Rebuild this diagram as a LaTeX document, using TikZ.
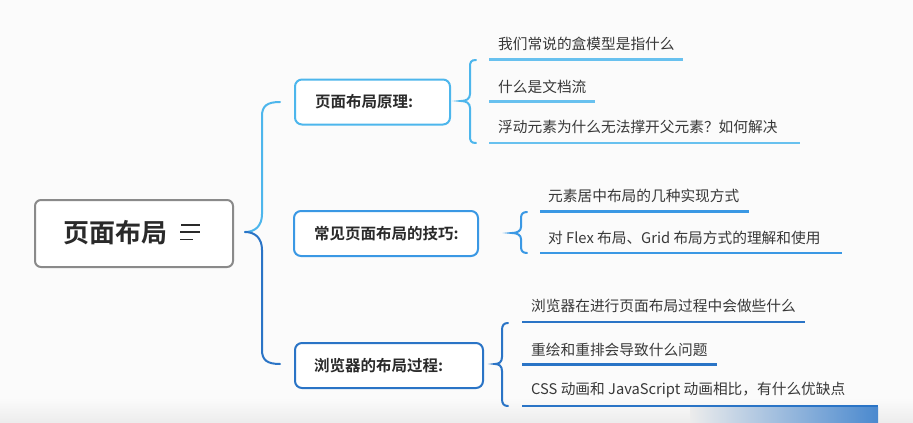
\documentclass[tikz,border=0pt]{standalone}
\usepackage{fontspec}
\setmainfont{Noto Sans CJK SC}
\newfontfamily\cjkb{Noto Sans CJK SC Bold}
\definecolor{bgc}{HTML}{FBFBFB}
\definecolor{bandc}{HTML}{ECECEC}
\definecolor{lightb}{HTML}{4DB6EC}
\definecolor{midb}{HTML}{3A98E4}
\definecolor{darkb}{HTML}{2A74C6}
\definecolor{rootc}{HTML}{8A8A8A}
\definecolor{txtc}{HTML}{2A2A2A}
\definecolor{leaftxt}{HTML}{383838}
\tikzset{
  rootbox/.style={draw=rootc, line width=2pt, rounded corners=6pt, fill=white, minimum width=198pt, minimum height=67pt, inner sep=0pt},
  topicbox/.style={line width=2pt, rounded corners=7pt, fill=white, minimum height=45pt, inner sep=0pt, text=txtc, font=\cjkb\fontsize{15.5}{18}\selectfont},
  topictext/.style={anchor=west, inner sep=0pt, text=txtc, font=\cjkb\fontsize{15.5}{18}\selectfont},
  leaftext/.style={anchor=west, inner sep=0pt, text=leaftxt, font=\fontsize{14.7}{17}\selectfont},
  uline/.style={line width=2.2pt},
  bracepath/.style={line width=2pt, line cap=round},
}
\begin{document}
\begin{tikzpicture}[x=1pt,y=-1pt]
\useasboundingbox (0,0) rectangle (913,423);
\fill[bgc] (0,0) rectangle (913,423);
\shade[top color=bgc, bottom color=bandc] (0,398) rectangle (913,423);
\shade[left color=bandc, right color=darkb!85] (690,407) rectangle (878,423);

% root
\node[rootbox] (root) at (134,233.5) {};
\node[anchor=west, inner sep=0pt, text=txtc, font=\cjkb\fontsize{26}{30}\selectfont] (roottxt) at (63,233) {页面布局};
\draw[line width=1.6pt, txtc] (181,225) -- (200,225) (180,232) -- (200,232) (180,239.5) -- (193,239.5);

% topics
\node[topicbox, draw=lightb, minimum width=155pt] (t1) at (372.5,102) {};
\node[topictext] (t1t) at (315,102) {页面布局原理:};
\node[topicbox, draw=midb, minimum width=184pt] (t2) at (386,233.5) {};
\node[topictext] (t2t) at (314,233.5) {常见页面布局的技巧:};
\node[topicbox, draw=darkb, minimum width=188pt] (t3) at (389,365.5) {};
\node[topictext] (t3t) at (314,365.5) {浏览器的布局过程:};

% main brace
\coordinate (mtip) at (245,232);
\draw[bracepath, lightb] (mtip) .. controls (255,232) and (262,226) .. (262,214) -- (262,116) .. controls (262,106) and (267,102) .. (280,102);
\draw[bracepath, darkb] (mtip) .. controls (255,232) and (262,238) .. (262,250) -- (262,350) .. controls (262,360) and (267,364) .. (280,364);

% leaves group 1
\node[leaftext] (l1a) at (498,44) {我们常说的盒模型是指什么};
\node[leaftext] (l1b) at (498,86.5) {什么是文档流};
\node[leaftext] (l1c) at (498,127) {浮动元素为什么无法撑开父元素？如何解决};
\draw[uline, lightb!85] (489,59.5) -- (683,59.5);
\draw[uline, lightb!85] (489,101.5) -- (595,101.5);
\draw[uline, lightb!85] (489,143) -- (800,143);
\coordinate (b1tip) at (461,101);
\draw[bracepath, lightb] (476,60) .. controls (471,60) and (470,62) .. (470,67) -- (470,94) .. controls (470,99) and (466,101) .. (b1tip) .. controls (466,101) and (470,103) .. (470,108) -- (470,136) .. controls (470,141) and (471,143) .. (476,143);

% leaves group 2
\node[leaftext] (l2a) at (548,196) {元素居中布局的几种实现方式};
\node[leaftext] (l2b) at (548,238) {对 Flex 布局、Grid 布局方式的理解和使用};
\draw[uline, midb] (540,211.5) -- (749,211.5);
\draw[uline, midb] (540,253) -- (842,253);
\coordinate (b2tip) at (512,233);
\draw[bracepath, midb] (527,212) .. controls (523,212) and (521,214) .. (521,218) -- (521,227) .. controls (521,231) and (517,233) .. (b2tip) .. controls (517,233) and (521,235) .. (521,239) -- (521,247) .. controls (521,251) and (523,253) .. (527,253);

% leaves group 3
\node[leaftext] (l3a) at (531,306) {浏览器在进行页面布局过程中会做些什么};
\node[leaftext] (l3b) at (531,350) {重绘和重排会导致什么问题};
\node[leaftext] (l3c) at (531,390) {CSS 动画和 JavaScript 动画相比，有什么优缺点};
\draw[uline, darkb] (522,322) -- (805,322);
\draw[uline, darkb] (522,364.5) -- (717,364.5);
\draw[uline, darkb] (522,406) -- (878,406);
\coordinate (b3tip) at (495,364);
\draw[bracepath, darkb] (508,323) .. controls (504,323) and (502,325) .. (502,330) -- (502,357) .. controls (502,362) and (499,364) .. (b3tip) .. controls (499,364) and (502,366) .. (502,371) -- (502,399) .. controls (502,404) and (504,406) .. (508,406);
\end{tikzpicture}
\end{document}
